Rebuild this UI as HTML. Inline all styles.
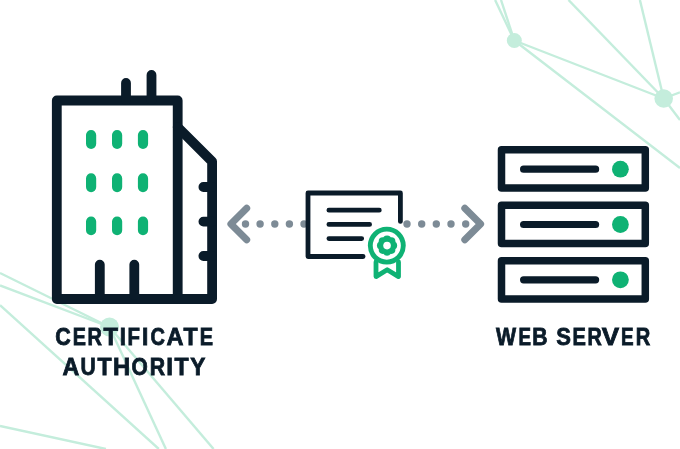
<!DOCTYPE html>
<html><head><meta charset="utf-8"><style>
html,body{margin:0;padding:0;background:#fff;width:680px;height:449px;overflow:hidden}
svg{position:absolute;left:0;top:0}
.g{position:absolute;left:0;top:0;transform-origin:0 0;font-family:"Liberation Sans",sans-serif;font-weight:bold;color:#0a1b29;font-size:23.7px;line-height:30px;white-space:nowrap;-webkit-text-stroke:0.8px #0a1b29}
</style></head><body>
<svg width="680" height="449" viewBox="0 0 680 449">
<g stroke="#c4eddc" stroke-width="2.4" fill="none">
<line x1="0" y1="273" x2="109.5" y2="327"/>
<line x1="0" y1="285.4" x2="109.5" y2="327"/>
<line x1="0" y1="305.2" x2="158.8" y2="449"/>
<line x1="109.5" y1="327" x2="165.9" y2="449"/>
<line x1="109.5" y1="327" x2="213.6" y2="449"/>
<line x1="0" y1="425.9" x2="105.9" y2="449"/>
<line x1="495.1" y1="0" x2="514.3" y2="40.5"/>
<line x1="501" y1="0" x2="514.3" y2="40.5"/>
<line x1="514.3" y1="40.5" x2="663.7" y2="98.5"/>
<line x1="514.3" y1="40.5" x2="680" y2="168"/>
<line x1="568.5" y1="0" x2="663.7" y2="98.5"/>
<line x1="639.9" y1="0" x2="663.7" y2="98.5"/>
<line x1="663.7" y1="98.5" x2="680" y2="92.3"/>
<line x1="663.7" y1="98.5" x2="680" y2="120"/>
</g>
<g fill="#c4eddc">
<circle cx="109.5" cy="327" r="9.5"/>
<circle cx="514.3" cy="40.5" r="7.5"/>
<circle cx="663.7" cy="98.5" r="9.3"/>
</g>
<!-- building -->
<g stroke="#0a1b29" stroke-width="9.8" fill="none" stroke-linejoin="round" stroke-linecap="round">
<path d="M56.8,100.5 H177.7 V299 H56.8 Z" fill="#fff"/>
<path d="M177.7,127.1 L212.1,161.5 V299 H177.7"/>
<path d="M126,83 V100 M151.5,75 V100"/>
<path d="M99.8,264.6 V295 M134.3,264.6 V295"/>
<path d="M203.4,187 H212 M203.4,221.6 H212 M203.4,256 H212"/>
</g>
<g stroke="#0fb274" stroke-width="10.2" stroke-linecap="round">
<path d="M91.1,135.1 V143.8 M117.1,135.1 V143.8 M143,135.1 V143.8"/>
<path d="M91.1,178.4 V187.1 M117.1,178.4 V187.1 M143,178.4 V187.1"/>
<path d="M91.1,221.5 V230.2 M117.1,221.5 V230.2 M143,221.5 V230.2"/>
</g>
<!-- arrows -->
<g fill="#7d8b96">
<circle cx="245.5" cy="224" r="3.7"/><circle cx="260.1" cy="224" r="3.7"/><circle cx="274.8" cy="224" r="3.7"/><circle cx="289.4" cy="224" r="3.7"/><circle cx="304" cy="224" r="3.7"/>
<circle cx="407" cy="224" r="3.7"/><circle cx="421.7" cy="224" r="3.7"/><circle cx="436.3" cy="224" r="3.7"/><circle cx="451" cy="224" r="3.7"/><circle cx="465.7" cy="224" r="3.7"/>
</g>
<g stroke="#7d8b96" stroke-width="7" fill="none" stroke-linecap="round" stroke-linejoin="round">
<path d="M246.7,208.2 L230.9,224 L246.7,239.8"/>
<path d="M464.8,208.2 L480.6,224 L464.8,239.8"/>
</g>
<!-- certificate -->
<rect x="310.4" y="195.4" width="87.6" height="58.7" fill="#fff"/>
<g stroke="#0a1b29" stroke-width="4.8" fill="none" stroke-linecap="round" stroke-linejoin="round">
<path d="M363.1,256.5 H308 V193 H400.4 V221.4"/>
</g>
<g stroke="#0a1b29" stroke-width="4.8" fill="none" stroke-linecap="round" stroke-linejoin="round">
<path d="M328.9,210.2 H379.3 M328.9,224.4 H369.6 M328.9,238.6 H361.7"/>
</g>
<g stroke="#0fb274" stroke-width="4.8" fill="none" stroke-linecap="round" stroke-linejoin="round">
<path d="M376,262 V276.6 L387.2,269.8 L398.5,276.6 V262"/>
</g>
<circle cx="386.8" cy="245.6" r="16.5" fill="#fff" stroke="#0fb274" stroke-width="4.9"/>
<g fill="#0fb274">
<circle cx="387.05" cy="245.6" r="7.2"/>
<circle cx="387.05" cy="239.60" r="4.1"/><circle cx="391.29" cy="241.36" r="4.1"/><circle cx="393.05" cy="245.60" r="4.1"/><circle cx="391.29" cy="249.84" r="4.1"/><circle cx="387.05" cy="251.60" r="4.1"/><circle cx="382.81" cy="249.84" r="4.1"/><circle cx="381.05" cy="245.60" r="4.1"/><circle cx="382.81" cy="241.36" r="4.1"/>
</g>
<circle cx="387.05" cy="245.6" r="3.8" fill="#fff"/>
<!-- server -->
<g stroke="#0a1b29" stroke-width="7.5" fill="none" stroke-linejoin="round" stroke-linecap="round">
<rect x="501.5" y="149.7" width="143.8" height="38.2"/>
<rect x="501.5" y="205.2" width="143.8" height="38.2"/>
<rect x="501.5" y="260.7" width="143.8" height="38.2"/>
<path d="M523.6,169.2 H595.6 M523.6,224.5 H595.6 M523.6,279.8 H595.6" stroke-width="7.2"/>
</g>
<g fill="#0fb274">
<circle cx="620.4" cy="169.2" r="8.4"/><circle cx="620.4" cy="224.5" r="8.4"/><circle cx="620.4" cy="279.8" r="8.4"/>
</g>
</svg>
<div id="txt" style="position:absolute;left:0;top:0;width:680px;height:449px;will-change:transform">
<span class="g" style="transform:translate(55.158px,321.813px) scaleX(0.9034)">C</span>
<span class="g" style="transform:translate(72.651px,321.813px) scaleX(0.8335)">E</span>
<span class="g" style="transform:translate(87.407px,321.813px) scaleX(0.8434)">R</span>
<span class="g" style="transform:translate(103.511px,321.813px) scaleX(0.9981)">T</span>
<span class="g" style="transform:translate(119.854px,321.813px) scaleX(0.9343)">I</span>
<span class="g" style="transform:translate(127.531px,321.813px) scaleX(0.8617)">F</span>
<span class="g" style="transform:translate(142.060px,321.813px) scaleX(0.9589)">I</span>
<span class="g" style="transform:translate(150.387px,321.813px) scaleX(0.8421)">C</span>
<span class="g" style="transform:translate(166.551px,321.813px) scaleX(0.9946)">A</span>
<span class="g" style="transform:translate(183.404px,321.813px) scaleX(0.9732)">T</span>
<span class="g" style="transform:translate(199.639px,321.813px) scaleX(0.8397)">E</span>
<span class="g" style="transform:translate(62.445px,351.663px) scaleX(0.9783)">A</span>
<span class="g" style="transform:translate(80.387px,351.663px) scaleX(0.8894)">U</span>
<span class="g" style="transform:translate(97.404px,351.663px) scaleX(0.9729)">T</span>
<span class="g" style="transform:translate(113.056px,351.663px) scaleX(1.0046)">H</span>
<span class="g" style="transform:translate(131.548px,351.663px) scaleX(0.8816)">O</span>
<span class="g" style="transform:translate(149.680px,351.663px) scaleX(0.8978)">R</span>
<span class="g" style="transform:translate(166.173px,351.663px) scaleX(1.0257)">I</span>
<span class="g" style="transform:translate(174.397px,351.663px) scaleX(0.9736)">T</span>
<span class="g" style="transform:translate(190.268px,351.663px) scaleX(0.9585)">Y</span>
<span class="g" style="transform:translate(496.007px,321.813px) scaleX(0.8981)">W</span>
<span class="g" style="transform:translate(518.388px,321.813px) scaleX(0.7910)">E</span>
<span class="g" style="transform:translate(532.177px,321.813px) scaleX(0.8959)">B</span>
<span class="g" style="transform:translate(556.302px,321.813px) scaleX(0.9285)">S</span>
<span class="g" style="transform:translate(572.413px,321.813px) scaleX(0.8466)">E</span>
<span class="g" style="transform:translate(587.424px,321.813px) scaleX(0.8355)">R</span>
<span class="g" style="transform:translate(601.669px,321.813px) scaleX(1.0989)">V</span>
<span class="g" style="transform:translate(621.121px,321.813px) scaleX(0.7968)">E</span>
<span class="g" style="transform:translate(635.641px,321.813px) scaleX(0.8479)">R</span>
</div>
</body></html>
